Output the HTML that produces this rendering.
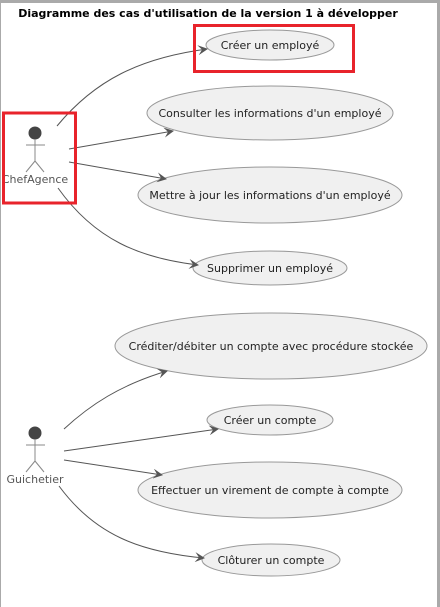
<!DOCTYPE html>
<html><head><meta charset="utf-8"><style>
html,body{margin:0;padding:0;background:#fff;}
svg{display:block;}
text{font-family:"DejaVu Sans","Liberation Sans",sans-serif;}
</style></head><body>
<svg width="440" height="607" viewBox="0 0 440 607" xmlns="http://www.w3.org/2000/svg">
<defs>
<marker id="a" markerWidth="10" markerHeight="10" refX="9" refY="5" orient="auto" markerUnits="userSpaceOnUse">
<path d="M0,0 L10,5 L0,10 L4,5 Z" fill="#555"/>
</marker>
</defs>
<rect x="0" y="0" width="440" height="607" fill="#fff"/>
<rect x="0" y="0" width="440" height="3" fill="#aaa"/>
<rect x="0" y="0" width="1" height="607" fill="#aaa"/>
<rect x="437" y="0" width="3" height="607" fill="#aaa"/>
<text x="208" y="17" font-size="11" font-weight="bold" text-anchor="middle" fill="#000">Diagramme des cas d'utilisation de la version 1 à développer</text>

<g fill="#f0f0f0" stroke="#999" stroke-width="1">
<ellipse cx="270" cy="45" rx="64" ry="15"/>
<ellipse cx="270" cy="113" rx="123" ry="27"/>
<ellipse cx="270" cy="195" rx="132" ry="28"/>
<ellipse cx="270" cy="268" rx="77" ry="17"/>
<ellipse cx="271" cy="346" rx="156" ry="33"/>
<ellipse cx="270" cy="420" rx="63" ry="15"/>
<ellipse cx="270" cy="490" rx="132" ry="28"/>
<ellipse cx="271" cy="560" rx="69" ry="16"/>
</g>
<g font-size="11" fill="#222" text-anchor="middle">
<text x="270" y="49">Créer un employé</text>
<text x="270" y="117">Consulter les informations d'un employé</text>
<text x="270" y="199">Mettre à jour les informations d'un employé</text>
<text x="270" y="272">Supprimer un employé</text>
<text x="271" y="350">Créditer/débiter un compte avec procédure stockée</text>
<text x="270" y="424">Créer un compte</text>
<text x="270" y="494">Effectuer un virement de compte à compte</text>
<text x="271" y="564">Clôturer un compte</text>
</g>

<g fill="none" stroke="#555" stroke-width="1" marker-end="url(#a)">
<path d="M57,126 C95,80 140,58 207,49"/>
<path d="M69,149 L173,131"/>
<path d="M69,162 L166,179"/>
<path d="M58,188 C95,240 140,258 198,265"/>
<path d="M64,429 C90,405 120,385 167,371"/>
<path d="M64,451 L218,429"/>
<path d="M64,460 L162,475"/>
<path d="M59,486 C95,535 140,552 204,558"/>
</g>

<g stroke="#888" stroke-width="1" fill="none">
<circle cx="35" cy="133" r="6" fill="#444" stroke="#444"/>
<line x1="35" y1="139" x2="35" y2="161"/>
<line x1="26" y1="145" x2="45" y2="145"/>
<line x1="35" y1="161" x2="26" y2="172"/>
<line x1="35" y1="161" x2="44" y2="172"/>
<circle cx="35" cy="433" r="6" fill="#444" stroke="#444"/>
<line x1="35" y1="439" x2="35" y2="461"/>
<line x1="26" y1="445" x2="45" y2="445"/>
<line x1="35" y1="461" x2="26" y2="472"/>
<line x1="35" y1="461" x2="44" y2="472"/>
</g>
<text x="35" y="183" font-size="11" fill="#555" text-anchor="middle">ChefAgence</text>
<text x="35" y="483" font-size="11" fill="#555" text-anchor="middle">Guichetier</text>

<rect x="3.5" y="113" width="72" height="90" fill="none" stroke="#e8232b" stroke-width="3"/>
<rect x="194.5" y="25.5" width="159" height="46" fill="none" stroke="#e8232b" stroke-width="3"/>
</svg>
</body></html>
